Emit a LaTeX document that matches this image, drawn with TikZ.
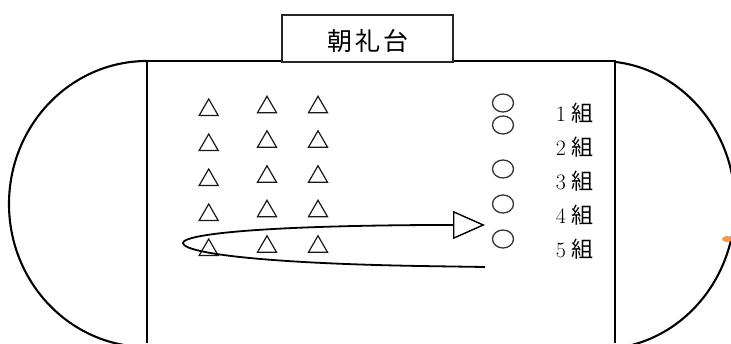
\documentclass[tikz,border=0pt]{standalone}
\usepackage{fontspec}
\newfontfamily\cjk{Noto Sans CJK JP}
\usetikzlibrary{arrows.meta,shapes.geometric}
\newcommand{\lblfont}{\fontsize{22}{25}\selectfont}
\newcommand{\kumifont}{\fontsize{22}{25}\selectfont}
\begin{document}
\begin{tikzpicture}[x=1pt,y=-1pt,
  outline/.style={line width=2.1pt,black},
  tri/.style={draw=black!90,line width=1.2pt,regular polygon,regular polygon sides=3,minimum size=22pt,inner sep=0pt},
  spot/.style={draw=black!80,line width=1.3pt,ellipse,minimum width=21pt,minimum height=18pt,inner sep=0pt},
  lbl/.style={inner sep=0pt},
  stage/.style={draw=black!85,line width=1.3pt,fill=white,minimum width=171pt,minimum height=47pt,inner sep=0pt},
  looppath/.style={line width=1.8pt,black}]
\useasboundingbox (0,0) rectangle (731,343);
\clip (0,0) rectangle (731,343);
% track ends
\begin{scope}
  \clip (0,0) rectangle (147,343);
  \draw[outline] (147,204) ellipse [x radius=138, y radius=143];
\end{scope}
\begin{scope}
  \clip (615,0) rectangle (731,343);
  \draw[outline] (600,205) ellipse [x radius=135, y radius=144];
\end{scope}
\fill[fill={rgb,255:red,247;green,150;blue,70}] (727,239) ellipse [x radius=5, y radius=3];
% field
\draw[outline] (147,343) -- (147,61) -- (615,61) -- (615,343);
\node[stage] (dai) at (367.5,38.5) {};
\node[inner sep=0pt] (daitext) at (368,41) {\cjk\fontsize{25}{28}\selectfont 朝\hspace{3pt}礼\hspace{3pt}台};
% triangles
\foreach \y [count=\i] in {110,145,180,215,250} {
  \node[tri] (t1\i) at (208.7,\y) {};
}
\foreach \y [count=\i] in {107.25,141.75,176.75,211.25,246.75} {
  \node[tri] (t2\i) at (267,\y) {};
  \node[tri] (t3\i) at (318,\y) {};
}
% circles
\foreach \y [count=\i] in {103,125,169,204,239} {
  \node[spot] (c\i) at (503,\y) {};
}
% labels
\foreach \y [count=\i] in {113,147,181,215,249} {
  \node[lbl] (l\i) at (574.5,\y) {\lblfont\i\hspace{5pt}{\cjk\kumifont 組}};
}
% loop arrow
\coordinate (loopstart) at (485,267);
\coordinate (loopleft) at (183,243);
\coordinate (tip) at (485,225);
\draw[looppath,-{Triangle[open,length=32pt,width=28pt,line width=1.4pt]}]
  (loopstart) -- (420,266) .. controls (250,263) and (183,252) .. (loopleft)
  .. controls (183,235) and (250,226) .. (430,225) -- (tip);
\end{tikzpicture}
\end{document}
